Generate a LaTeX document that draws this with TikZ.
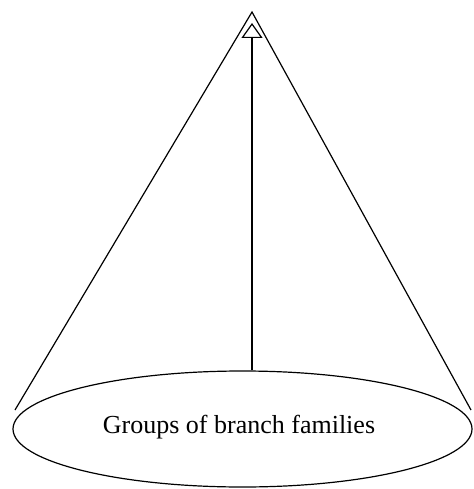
\documentclass[tikz,border=0pt]{standalone}
\usepackage{fontspec}
\setmainfont{Liberation Serif}
\usetikzlibrary{arrows.meta,shapes.geometric}
\begin{document}
\begin{tikzpicture}[x=1pt,y=-1pt,
  line/.style={draw=black,line width=1.2pt},
  base/.style={ellipse,draw=black,line width=1.2pt,minimum width=459pt,minimum height=116pt,inner sep=0pt}]
\useasboundingbox (0,0) rectangle (473,489);
\coordinate (apex) at (252,12);
\coordinate (tip) at (252,23);
\node[base] (bottom) at (242.5,429) {};
\node[font=\fontsize{26}{30}\selectfont] (label) at (239,427) {Groups of branch families};
\coordinate (lft) at (15,410);
\coordinate (rgt) at (471,410);
\draw[line] (lft) -- (apex) -- (rgt);
\draw[line,-{Triangle[open,length=15pt,width=21pt]}] (bottom.north -| tip) -- (tip);
\end{tikzpicture}
\end{document}
